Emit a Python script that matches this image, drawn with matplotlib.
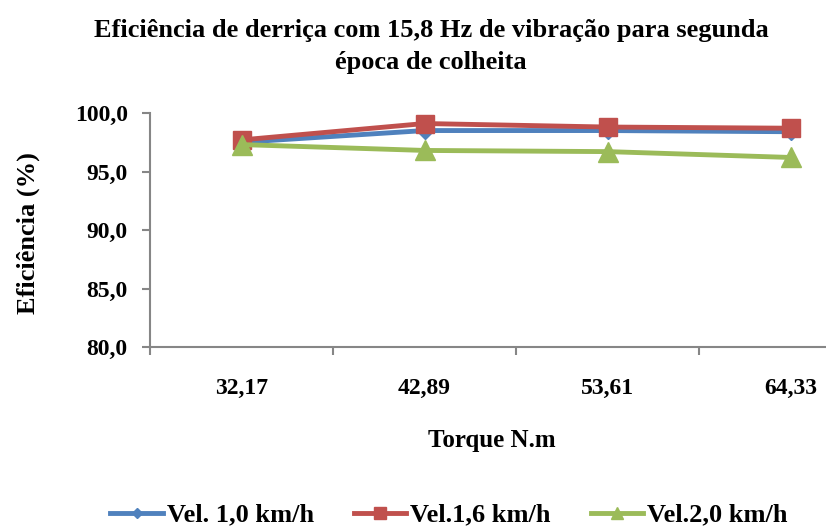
import matplotlib.pyplot as plt

# dados
torque = ["32,17", "42,89", "53,61", "64,33"]
vel_10 = [97.5, 98.5, 98.5, 98.4]
vel_16 = [97.7, 99.1, 98.8, 98.7]
vel_20 = [97.3, 96.8, 96.7, 96.2]
yticks = [80, 85, 90, 95, 100]

plt.rcParams['font.family'] = ['Liberation Serif', 'DejaVu Serif']
plt.rcParams['font.weight'] = 'bold'

fig = plt.figure(figsize=(8.26, 5.27), dpi=100)
W, H = 826, 527
# eixo vai além da borda direita (recorte original)
ax = fig.add_axes([150 / W, (H - 347) / H, 732 / W, 234 / H])

x = list(range(len(torque)))
ax.plot(x, vel_10, color='#4F81BD', lw=3.5, marker='D', ms=8, label='Vel. 1,0 km/h')
ax.plot(x, vel_16, color='#C0504D', lw=3.5, marker='s', ms=13, label='Vel.1,6 km/h')
ax.plot(x, vel_20, color='#9BBB59', lw=3.5, marker='^', ms=14, label='Vel.2,0 km/h')

ax.set_xlim(-0.5, 3.5)
ax.set_ylim(80, 100)
ax.set_yticks(yticks)
ax.set_yticklabels([f"{v:.1f}".replace('.', ',') for v in yticks], fontsize=17)
ax.set_xticks([-0.5, 0.5, 1.5, 2.5, 3.5])
ax.set_xticklabels([])
ax.set_xticks(x, minor=True)
ax.set_xticklabels(torque, minor=True, fontsize=17)
ax.tick_params(axis='x', which='minor', length=0, pad=22)
ax.tick_params(axis='both', which='major', length=6, width=1.5, color='#868686', direction='out')
ax.tick_params(axis='y', pad=10)

for s in ['top', 'right']:
    ax.spines[s].set_visible(False)
for s in ['left', 'bottom']:
    ax.spines[s].set_color('#868686')
    ax.spines[s].set_linewidth(1.5)

fig.text(431 / W, 1 - 30 / H, "Eficiência de derriça com 15,8 Hz de vibração para segunda",
         ha='center', va='center', fontsize=19)
fig.text(431 / W, 1 - 62 / H, "época de colheita", ha='center', va='center', fontsize=19)
fig.text(492 / W, 1 - 440 / H, "Torque N.m", ha='center', va='center', fontsize=18)
fig.text(28 / W, 1 - 233 / H, "Eficiência (%)", ha='center', va='center', rotation=90, fontsize=19)

fig.legend(loc='center', bbox_to_anchor=(449 / W, 1 - 515 / H), ncol=3, frameon=False,
           fontsize=19, markerscale=0.65, handlelength=2.0, handletextpad=0.15, columnspacing=1.5)

fig.savefig('out.png', dpi=100)
